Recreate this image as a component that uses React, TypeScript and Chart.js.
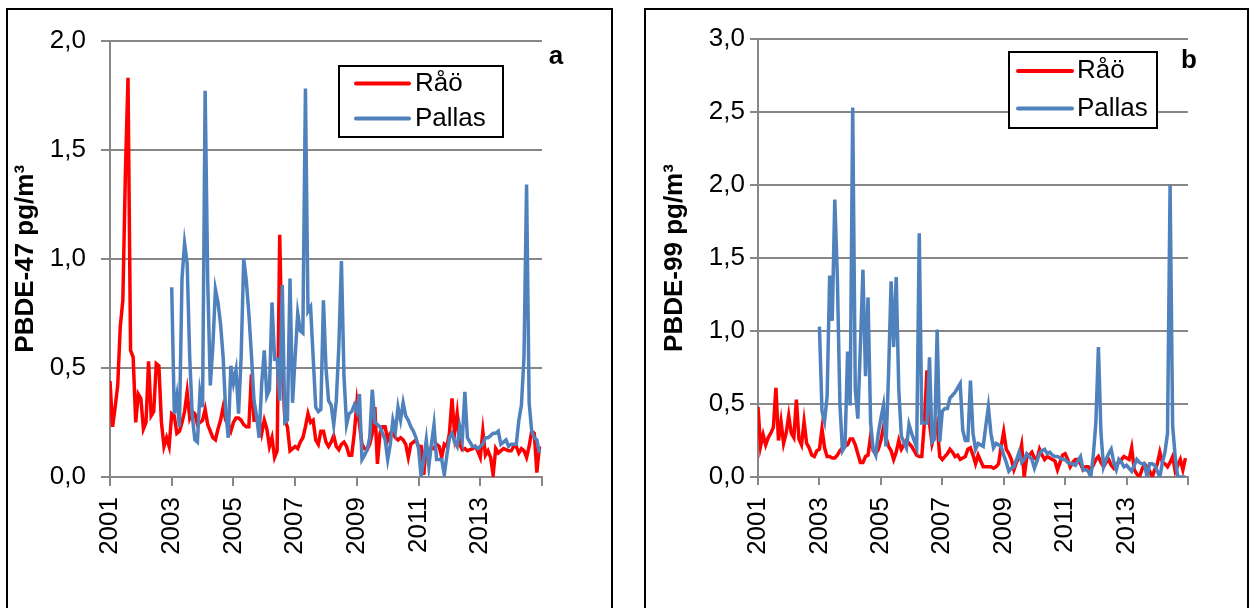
import { useEffect, useRef } from 'react';
import { Chart, registerables } from 'chart.js';

Chart.register(...registerables);

const FONT = '"Liberation Sans", Arial, Helvetica, sans-serif';

// Monthly series. Råö from Jan 2001, Pallas from Jan 2003.
const RAO_START = 2001;
const PALLAS_START = 2003;
const X_TICK_YEARS_MIN = 2001;
const X_TICK_YEARS_MAX = 2015;

const RAO_47 = [
  0.44, 0.23, 0.32, 0.42, 0.69, 0.81, 1.40, 1.83, 0.58, 0.55,
  0.25, 0.38, 0.36, 0.22, 0.25, 0.53, 0.28, 0.30, 0.52, 0.51,
  0.25, 0.14, 0.18, 0.14, 0.29, 0.28, 0.20, 0.21, 0.25, 0.30,
  0.39, 0.27, 0.30, 0.29, 0.24, 0.25, 0.26, 0.31, 0.24, 0.21,
  0.18, 0.17, 0.22, 0.26, 0.32, 0.26, 0.24, 0.21, 0.25, 0.27,
  0.27, 0.26, 0.24, 0.23, 0.23, 0.47, 0.26, 0.26, 0.26, 0.20,
  0.26, 0.22, 0.14, 0.18, 0.09, 0.12, 1.11, 0.53, 0.26, 0.23,
  0.12, 0.13, 0.14, 0.13, 0.16, 0.18, 0.23, 0.29, 0.25, 0.26,
  0.17, 0.15, 0.21, 0.21, 0.16, 0.14, 0.16, 0.19, 0.14, 0.125,
  0.15, 0.16, 0.14, 0.10, 0.10, 0.20, 0.34, 0.24, 0.15, 0.13,
  0.125, 0.15, 0.20, 0.32, 0.06, 0.20, 0.23, 0.23, 0.17, 0.20,
  0.20, 0.18, 0.17, 0.18, 0.17, 0.15, 0.09, 0.15, 0.16, 0.17,
  0.14, 0.14, 0.01, 0.14, 0.09, 0.14, 0.13, 0.15, 0.14, 0.09,
  0.15, 0.14, 0.20, 0.36, 0.20, 0.29, 0.15, 0.125, 0.13, 0.12,
  0.125, 0.13, 0.14, 0.12, 0.09, 0.21, 0.10, 0.12, 0.09, 0.01,
  0.13, 0.11, 0.12, 0.13, 0.125, 0.12, 0.12, 0.14, 0.14, 0.11,
  0.13, 0.12, 0.09, 0.14, 0.21, 0.20, 0.02, 0.14,
];

const PALLAS_47 = [
  0.87, 0.29, 0.37, 0.23, 0.91, 1.07, 0.98, 0.55, 0.28, 0.17,
  0.16, 0.39, 0.32, 1.77, 0.90, 0.42, 0.60, 0.86, 0.80, 0.70,
  0.55, 0.30, 0.18, 0.51, 0.43, 0.49, 0.29, 0.55, 1.00, 0.90,
  0.75, 0.56, 0.35, 0.28, 0.18, 0.43, 0.58, 0.37, 0.40, 0.80,
  0.54, 0.54, 0.35, 0.88, 0.25, 0.26, 0.91, 0.34, 0.55, 0.75,
  0.67, 0.66, 1.78, 0.76, 0.78, 0.55, 0.32, 0.30, 0.31, 0.81,
  0.50, 0.35, 0.33, 0.24, 0.35, 0.60, 0.99, 0.46, 0.24, 0.29,
  0.30, 0.33, 0.30, 0.38, 0.08, 0.10, 0.125, 0.18, 0.40, 0.25,
  0.24, 0.23, 0.20, 0.17, 0.08, 0.15, 0.26, 0.21, 0.32, 0.26,
  0.34, 0.28, 0.26, 0.23, 0.21, 0.18, 0.13, 0.00, 0.08, 0.17,
  0.05, 0.15, 0.24, 0.08, 0.08, 0.08, 0.01, 0.10, 0.18, 0.20,
  0.16, 0.14, 0.23, 0.17, 0.39, 0.18, 0.16, 0.14, 0.14, 0.13,
  0.14, 0.15, 0.18, 0.18, 0.19, 0.20, 0.20, 0.21, 0.15, 0.16,
  0.17, 0.14, 0.15, 0.15, 0.15, 0.26, 0.33, 0.55, 1.34, 0.34,
  0.21, 0.18, 0.17, 0.11,
];

const RAO_99 = [
  0.48, 0.21, 0.29, 0.22, 0.27, 0.30, 0.34, 0.61, 0.25, 0.38,
  0.23, 0.30, 0.42, 0.30, 0.27, 0.53, 0.26, 0.22, 0.38, 0.23,
  0.20, 0.15, 0.14, 0.18, 0.19, 0.33, 0.20, 0.14, 0.14, 0.13,
  0.13, 0.15, 0.18, 0.20, 0.21, 0.22, 0.26, 0.26, 0.22, 0.16,
  0.10, 0.10, 0.14, 0.15, 0.28, 0.18, 0.16, 0.19, 0.25, 0.34,
  0.27, 0.21, 0.18, 0.12, 0.17, 0.25, 0.19, 0.22, 0.25, 0.23,
  0.21, 0.18, 0.15, 0.14, 0.14, 0.37, 0.73, 0.37, 0.23, 0.30,
  0.36, 0.14, 0.12, 0.14, 0.16, 0.19, 0.17, 0.14, 0.15, 0.12,
  0.13, 0.14, 0.19, 0.20, 0.15, 0.09, 0.15, 0.11, 0.07, 0.07,
  0.07, 0.07, 0.06, 0.07, 0.09, 0.21, 0.31, 0.19, 0.16, 0.12,
  0.05, 0.10, 0.14, 0.22, 0.00, 0.14, 0.15, 0.17, 0.13, 0.12,
  0.19, 0.15, 0.12, 0.14, 0.13, 0.12, 0.11, 0.05, 0.10, 0.15,
  0.16, 0.12, 0.07, 0.10, 0.12, 0.12, 0.09, 0.05, 0.07, 0.07,
  0.05, 0.08, 0.12, 0.14, 0.10, 0.07, 0.10, 0.12, 0.08, 0.06,
  0.09, 0.10, 0.12, 0.14, 0.13, 0.12, 0.20, 0.05, 0.02, 0.00,
  0.05, 0.09, 0.07, 0.04, 0.00, 0.05, 0.09, 0.17, 0.10, 0.09,
  0.07, 0.10, 0.14, 0.04, 0.08, 0.12, 0.05, 0.13,
];

const PALLAS_99 = [
  1.03, 0.45, 0.38, 0.55, 1.38, 1.07, 1.90, 1.37, 0.50, 0.18,
  0.21, 0.86, 0.49, 2.53, 0.60, 0.40, 0.90, 1.42, 0.69, 1.23,
  0.37, 0.19, 0.15, 0.30, 0.40, 0.49, 0.21, 0.70, 1.34, 0.89,
  1.37, 0.60, 0.28, 0.24, 0.20, 0.36, 0.30, 0.25, 0.20, 1.67,
  0.37, 0.37, 0.37, 0.82, 0.24, 0.26, 1.01, 0.24, 0.45, 0.47,
  0.47, 0.54, 0.56, 0.58, 0.61, 0.64, 0.32, 0.25, 0.25, 0.66,
  0.30, 0.19, 0.23, 0.22, 0.21, 0.35, 0.48, 0.30, 0.20, 0.23,
  0.22, 0.21, 0.15, 0.10, 0.04, 0.06, 0.07, 0.12, 0.17, 0.10,
  0.12, 0.16, 0.14, 0.12, 0.06, 0.11, 0.16, 0.18, 0.19, 0.16,
  0.17, 0.15, 0.14, 0.14, 0.13, 0.12, 0.12, 0.10, 0.09, 0.09,
  0.08, 0.11, 0.14, 0.05, 0.05, 0.04, 0.00, 0.15, 0.37, 0.89,
  0.30, 0.07, 0.12, 0.16, 0.19, 0.10, 0.05, 0.12, 0.10, 0.07,
  0.08, 0.06, 0.04, 0.08, 0.12, 0.10, 0.09, 0.09, 0.00, 0.09,
  0.09, 0.08, 0.04, 0.00, 0.10, 0.17, 0.30, 2.00, 0.35, 0.14,
  0.00, 0.00, 0.00, 0.00,
];

const SERIES_NAMES = ['Råö', 'Pallas'];
const SERIES_COLORS = ['#FF0000', '#4F81BD'];
const GRID = '#878787';

function toPoints(values: number[], startYear: number) {
  return values.map((v, i) => ({ x: startYear + i / 12, y: v }));
}

function fmtComma(v: number) {
  return Number(v).toFixed(1).replace('.', ',');
}

const decorPlugin = {
  id: 'panelDecor',
  afterDraw(chart: any, _args: any, opts: any) {
    const ctx = chart.ctx as CanvasRenderingContext2D;
    const lg = opts.legend;
    ctx.save();
    ctx.fillStyle = '#ffffff';
    ctx.fillRect(lg.x, lg.y, lg.w, lg.h);
    ctx.strokeStyle = '#000000';
    ctx.lineWidth = 2;
    ctx.strokeRect(lg.x, lg.y, lg.w, lg.h);
    ctx.font = `26px ${FONT}`;
    ctx.textBaseline = 'middle';
    ctx.textAlign = 'left';
    chart.data.datasets.forEach((ds: any, i: number) => {
      const yy = lg.rows[i];
      ctx.strokeStyle = ds.borderColor;
      ctx.lineWidth = 4;
      ctx.lineCap = 'round';
      ctx.beginPath();
      ctx.moveTo(lg.sx0, yy);
      ctx.lineTo(lg.sx1, yy);
      ctx.stroke();
      ctx.fillStyle = '#000000';
      ctx.fillText(ds.label, lg.tx, yy);
    });
    ctx.font = `bold 26px ${FONT}`;
    ctx.textAlign = 'center';
    ctx.textBaseline = 'alphabetic';
    ctx.fillStyle = '#000000';
    ctx.fillText(opts.tag.text, opts.tag.x, opts.tag.y);
    ctx.restore();
  },
};

type PanelOpts = {
  rao: number[];
  pallas: number[];
  yMax: number;
  yTitle: string;
  yWidth: number;
  titlePad: number;
  tickLen: number;
  tickPad: number;
  xPad: number;
  padRight: number;
  legend: any;
  tag: any;
};

function buildConfig(p: PanelOpts): any {
  return {
    type: 'line',
    data: {
      datasets: [
        {
          label: SERIES_NAMES[0],
          data: toPoints(p.rao, RAO_START),
          borderColor: SERIES_COLORS[0],
          backgroundColor: SERIES_COLORS[0],
          borderWidth: 3.5,
          pointRadius: 0,
          tension: 0,
          order: 2,
        },
        {
          label: SERIES_NAMES[1],
          data: toPoints(p.pallas, PALLAS_START),
          borderColor: SERIES_COLORS[1],
          backgroundColor: SERIES_COLORS[1],
          borderWidth: 3.5,
          pointRadius: 0,
          tension: 0,
          order: 1,
        },
      ],
    },
    options: {
      responsive: false,
      animation: false,
      events: [],
      layout: { padding: { top: 29, right: p.padRight, left: 0, bottom: 0 } },
      plugins: {
        legend: { display: false },
        tooltip: { enabled: false },
        panelDecor: { legend: p.legend, tag: p.tag },
      },
      scales: {
        x: {
          type: 'linear',
          min: X_TICK_YEARS_MIN,
          max: X_TICK_YEARS_MAX,
          afterFit: (s: any) => {
            s.height = 131;
          },
          ticks: {
            stepSize: 2,
            autoSkip: false,
            minRotation: 90,
            maxRotation: 90,
            padding: p.xPad,
            color: '#000000',
            font: { family: FONT, size: 26 },
            callback: (v: number) => (v >= X_TICK_YEARS_MAX ? '' : String(v)),
          },
          grid: {
            drawOnChartArea: false,
            drawTicks: true,
            tickLength: p.tickLen,
            color: GRID,
            lineWidth: 2,
          },
          border: { display: true, color: GRID, width: 2 },
        },
        y: {
          type: 'linear',
          min: 0,
          max: p.yMax,
          afterFit: (s: any) => {
            s.width = p.yWidth;
          },
          ticks: {
            stepSize: 0.5,
            padding: p.tickPad,
            color: '#000000',
            font: { family: FONT, size: 26 },
            callback: (v: number) => fmtComma(v),
          },
          grid: {
            drawOnChartArea: true,
            drawTicks: true,
            tickLength: p.tickLen,
            color: GRID,
            lineWidth: 2,
          },
          border: { display: true, color: GRID, width: 2 },
          title: {
            display: true,
            text: p.yTitle,
            color: '#000000',
            font: { family: FONT, size: 26, weight: 'bold', lineHeight: 1.2 },
            padding: { top: p.titlePad, bottom: 0 },
          },
        },
      },
    },
    plugins: [decorPlugin],
  };
}

function Panel({ left, width, cfg }: { left: number; width: number; cfg: any }) {
  const ref = useRef<HTMLCanvasElement | null>(null);
  useEffect(() => {
    if (!ref.current) return;
    const chart = new Chart(ref.current, cfg);
    return () => chart.destroy();
  }, []);
  return (
    <div
      style={{
        position: 'absolute',
        left,
        top: 8,
        width,
        height: 620,
        border: '2px solid #000',
        boxSizing: 'border-box',
        background: '#fff',
      }}
    >
      <canvas ref={ref} width={width - 4} height={598} style={{ display: 'block' }} />
    </div>
  );
}

const cfgA = buildConfig({
  rao: RAO_47,
  pallas: PALLAS_47,
  yMax: 2,
  yTitle: 'PBDE-47 pg/m³',
  yWidth: 102,
  titlePad: 2.4,
  tickLen: 9,
  tickPad: 15,
  xPad: 11,
  padRight: 69,
  legend: { x: 331, y: 56, w: 164, h: 71, rows: [73.5, 108.5], sx0: 348, sx1: 401, tx: 407 },
  tag: { text: 'a', x: 548, y: 54 },
});

const cfgB = buildConfig({
  rao: RAO_99,
  pallas: PALLAS_99,
  yMax: 3,
  yTitle: 'PBDE-99 pg/m³',
  yWidth: 112,
  titlePad: 13.4,
  tickLen: 8,
  tickPad: 5,
  xPad: 12,
  padRight: 59,
  legend: { x: 363, y: 42, w: 148, h: 76, rows: [61, 98.5], sx0: 372, sx1: 426, tx: 431 },
  tag: { text: 'b', x: 543, y: 58 },
});

export default function App() {
  return (
    <div
      style={{
        position: 'fixed',
        left: 0,
        top: 0,
        width: 1250,
        height: 608,
        background: '#fff',
        overflow: 'hidden',
      }}
    >
      <Panel left={6} width={607} cfg={cfgA} />
      <Panel left={644} width={605} cfg={cfgB} />
    </div>
  );
}
